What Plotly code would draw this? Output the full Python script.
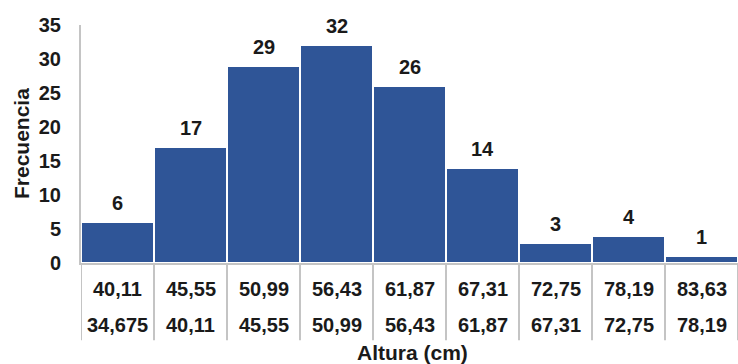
import plotly.graph_objects as go

upper = ["40,11", "45,55", "50,99", "56,43", "61,87", "67,31", "72,75", "78,19", "83,63"]
lower = ["34,675", "40,11", "45,55", "50,99", "56,43", "61,87", "67,31", "72,75", "78,19"]
freq = [6, 17, 29, 32, 26, 14, 3, 4, 1]

FONT = "Liberation Sans, Arial, sans-serif"
BAR = "#2F5597"
GRID = "#C4C4C4"
TXT = "#1A1A1A"
FS = 20
FT = 21

n = len(freq)
xs = list(range(n))

fig = go.Figure()
fig.add_trace(go.Bar(
    x=xs, y=freq, width=1.0,
    marker=dict(color=BAR, line=dict(color="#FFFFFF", width=2)),
    hoverinfo="skip",
))

annotations = []
for i, v in enumerate(freq):
    annotations.append(dict(x=i, y=v, xref="x", yref="y", text=f"<b>{v}</b>",
                            showarrow=False, yanchor="bottom", yshift=6,
                            font=dict(family=FONT, size=FS, color=TXT)))
    annotations.append(dict(x=i, y=-0.11, xref="x", yref="paper", text=f"<b>{upper[i]}</b>",
                            showarrow=False, yanchor="middle",
                            font=dict(family=FONT, size=FS, color=TXT)))
    annotations.append(dict(x=i, y=-0.262, xref="x", yref="paper", text=f"<b>{lower[i]}</b>",
                            showarrow=False, yanchor="middle",
                            font=dict(family=FONT, size=FS, color=TXT)))

annotations.append(dict(x=0.504, y=-0.376, xref="paper", yref="paper", text="<b>Altura (cm)</b>",
                        showarrow=False, yanchor="middle", xanchor="center",
                        font=dict(family=FONT, size=FT, color=TXT)))
annotations.append(dict(x=-0.0913, y=0.5, xref="paper", yref="paper", text="<b>Frecuencia</b>",
                        showarrow=False, textangle=-90, xanchor="center", yanchor="middle",
                        font=dict(family=FONT, size=FT, color=TXT)))

shapes = []
for b in [i - 0.5 for i in range(n + 1)]:
    shapes.append(dict(type="line", xref="x", yref="paper", x0=b, x1=b, y0=0, y1=-0.325,
                       line=dict(color=GRID, width=2), layer="below"))

fig.update_layout(
    width=738, height=364,
    margin=dict(l=81, r=0, t=25, b=101),
    paper_bgcolor="white", plot_bgcolor="white",
    showlegend=False,
    bargap=0,
    annotations=annotations,
    shapes=shapes,
    xaxis=dict(range=[-0.5, n - 0.5], showticklabels=False, showgrid=False, zeroline=False,
               showline=True, linecolor=GRID, linewidth=2, ticks=""),
    yaxis=dict(range=[0, 35], dtick=5, showgrid=False, zeroline=False,
               showline=True, linecolor=GRID, linewidth=2, ticks="",
               ticklabelstandoff=14,
               tickprefix="<b>", ticksuffix="</b>",
               tickfont=dict(family=FONT, size=FS, color=TXT)),
    font=dict(family=FONT),
)

fig.write_html("out.html")
